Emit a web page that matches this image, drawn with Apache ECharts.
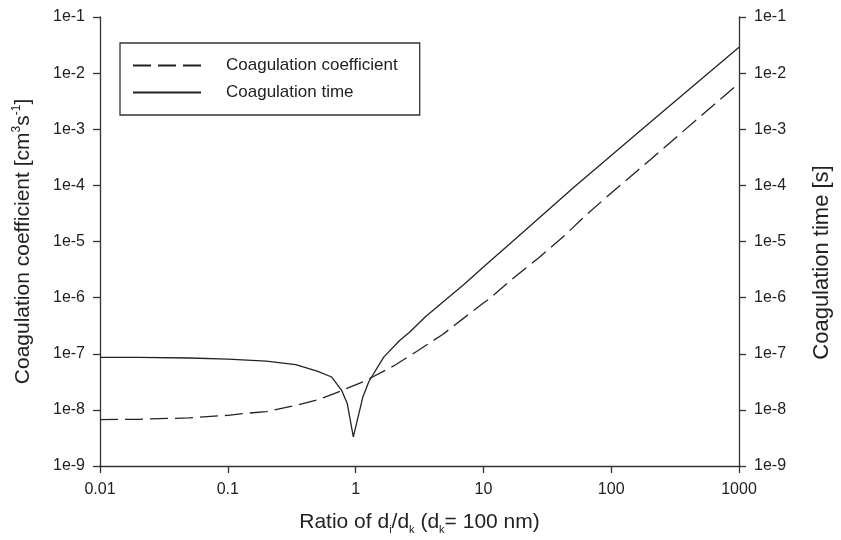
<!DOCTYPE html>
<html>
<head>
<meta charset="utf-8">
<script src="https://cdn.jsdelivr.net/npm/echarts@6/dist/echarts.min.js"></script>
<style>html,body{margin:0;padding:0;background:#fff}#c{width:841px;height:540px}</style>
</head>
<body>
<div id="c"></div>
<script>
// Data
const timeRatio = [0.01,0.02,0.05,0.1,0.2,0.34,0.5,0.65,0.78,0.86,0.96,1.14,1.27,1.66,2.2,2.67,3.5,4.8,7,10,20,50,100,200,500,1000];
const timeValue = [8.6e-8,8.6e-8,8.4e-8,8.0e-8,7.4e-8,6.4e-8,4.9e-8,3.85e-8,2.2e-8,1.3e-8,3.3e-9,1.7e-8,3.2e-8,8.7e-8,1.7e-7,2.46e-7,4.5e-7,8.3e-7,1.7e-6,3.5e-6,1.4e-5,8.9e-5,3.4e-4,1.3e-3,7.6e-3,2.9e-2];
const coefRatio = [0.01,0.02,0.05,0.1,0.14,0.2,0.34,0.5,0.68,1.16,1.97,3,4.8,7.1,10,11,17,27,41,64,100,200,500,1000];
const coefValue = [6.7e-9,6.8e-9,7.2e-9,8.0e-9,8.7e-9,9.3e-9,1.2e-8,1.5e-8,1.95e-8,3.2e-8,6e-8,1.1e-7,2.2e-7,4.4e-7,8e-7,9.3e-7,2.2e-6,5.1e-6,1.15e-5,3.0e-5,7.3e-5,2.8e-4,1.7e-3,6.6e-3];
const xTickLabels = ['0.01','0.1','1','10','100','1000'];
const yTickLabels = ['1e-9','1e-8','1e-7','1e-6','1e-5','1e-4','1e-3','1e-2','1e-1'];
const seriesNames = ['Coagulation coefficient','Coagulation time'];

const FONT = 'Liberation Sans, Arial, sans-serif';
const INK = '#222';
function xLab(v){ const e=Math.round(Math.log10(v)); return xTickLabels[e+2] || ''; }
function yLab(v){ const e=Math.round(Math.log10(v)); return yTickLabels[e+9] || ''; }
function pairs(xs, ys){ return xs.map((x,i)=>[x, ys[i]]); }

const yAxisBase = {
  type:'log', logBase:10, min:1e-9, max:1e-1,
  splitLine:{show:false}, minorTick:{show:false},
  axisLine:{show:true, lineStyle:{color:'#333', width:1.3}},
  axisTick:{show:true, inside:false, length:7, lineStyle:{color:'#333', width:1.3}},
  axisLabel:{formatter:yLab, color:INK, fontSize:16, fontFamily:FONT, margin:15},
  nameLocation:'middle'
};

const chart = echarts.init(document.getElementById('c'), null, {renderer:'canvas'});
chart.setOption({
  animation:false,
  backgroundColor:'#fff',
  grid:{left:100, right:89, top:17, bottom:67, containLabel:false},
  legend:{
    show:true, orient:'vertical', left:120, top:43,
    data:seriesNames,
    itemWidth:68, itemHeight:14, itemGap:10,
    padding:[14,22,14,12],
    borderColor:'#333', borderWidth:1.3,
    itemStyle:{color:'rgba(0,0,0,0)', borderWidth:0, borderColor:'rgba(0,0,0,0)'},
    textStyle:{color:INK, fontSize:17, fontFamily:FONT, padding:[0,0,0,20]}
  },
  xAxis:{
    type:'log', logBase:10, min:0.01, max:1000,
    splitLine:{show:false}, minorTick:{show:false},
    axisLine:{show:true, lineStyle:{color:'#333', width:1.3}},
    axisTick:{show:true, inside:false, length:7, lineStyle:{color:'#333', width:1.3}},
    axisLabel:{formatter:xLab, color:INK, fontSize:16, fontFamily:FONT, margin:16},
    name:'Ratio of d{sub|i}/d{sub|k} (d{sub|k}= 100 nm)',
    nameLocation:'middle', nameGap:44,
    nameTextStyle:{color:INK, fontSize:21, fontFamily:FONT,
      rich:{sub:{fontSize:11, fontFamily:FONT, color:INK, padding:[14,0,0,0]}}}
  },
  yAxis:[
    Object.assign({}, yAxisBase, {position:'left', name:'Coagulation coefficient [cm{sup|3}s{sup|-1}]', nameGap:64,
      nameTextStyle:{color:INK, fontSize:21, fontFamily:FONT,
        rich:{sup:{fontSize:12, fontFamily:FONT, color:INK, padding:[0,0,13,0]}}}}),
    Object.assign({}, yAxisBase, {position:'right', name:'Coagulation time [s]', nameGap:72, nameRotate:90,
      nameTextStyle:{color:INK, fontSize:22, fontFamily:FONT, padding:[0,42,0,0]}})
  ],
  series:[
    {name:seriesNames[0], type:'line', yAxisIndex:0, symbol:'none', smooth:false,
     data:pairs(coefRatio, coefValue),
     lineStyle:{color:INK, width:1.3, type:[18,7]}, itemStyle:{color:INK}},
    {name:seriesNames[1], type:'line', yAxisIndex:1, symbol:'none', smooth:false,
     data:pairs(timeRatio, timeValue),
     lineStyle:{color:INK, width:1.3, type:'solid'}, itemStyle:{color:INK}}
  ]
});
</script>
</body>
</html>
